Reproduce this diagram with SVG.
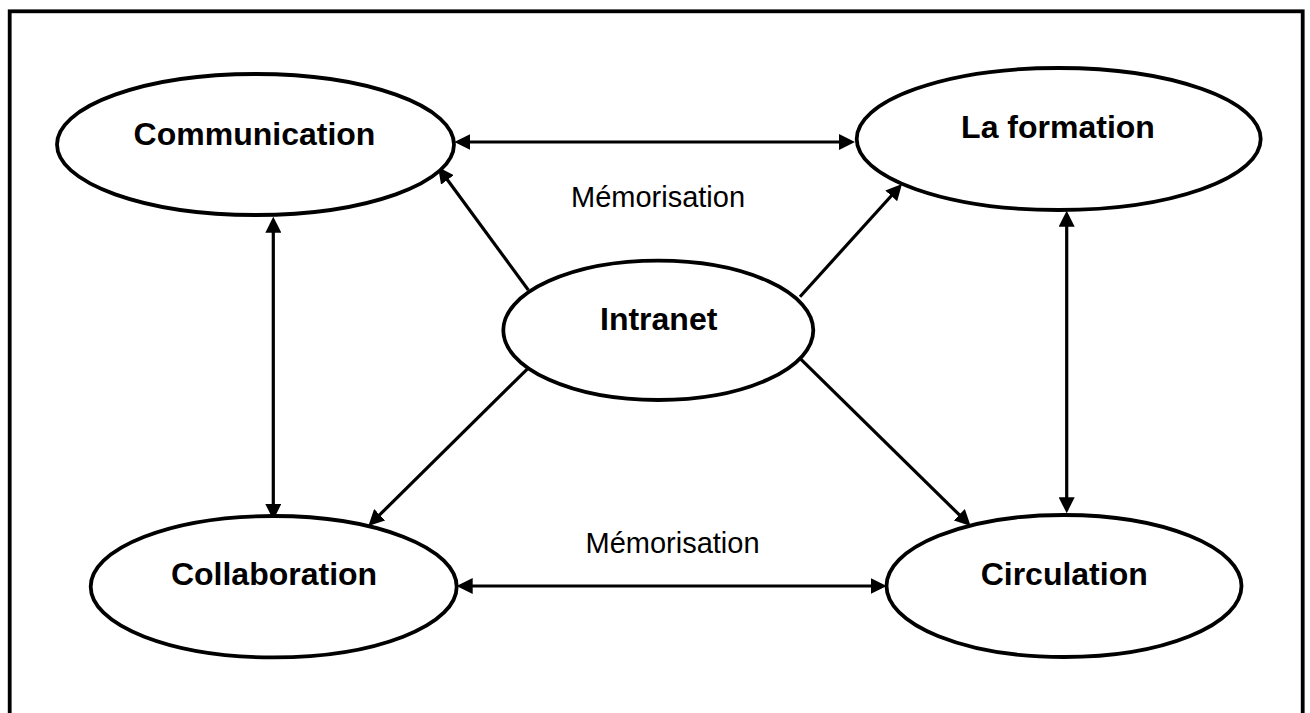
<svg xmlns="http://www.w3.org/2000/svg" width="1310" height="713" viewBox="0 0 1310 713">
  <style>
    .node { fill: #ffffff; stroke: #000000; stroke-width: 3.8; }
    .lbl { font-family: "Liberation Sans", Arial, sans-serif; font-weight: bold; font-size: 32px; fill: #000000; text-anchor: middle; }
    .edge-lbl { font-family: "Liberation Sans", Arial, sans-serif; font-size: 29px; fill: #000000; text-anchor: middle; }
    .conn { stroke: #000000; stroke-width: 3.2; fill: none; }
    .frame { fill: none; stroke: #000000; stroke-width: 3.8; }
  </style>
  <defs>
    <marker id="arrow" markerUnits="userSpaceOnUse" markerWidth="16" markerHeight="16" viewBox="0 0 16 16" refX="12" refY="8" orient="auto-start-reverse">
      <path d="M0,0 L16,8 L0,16 z" fill="#000000"/>
    </marker>
  </defs>
  <rect width="1310" height="713" fill="#ffffff"/>
  <rect class="frame" x="9.7" y="11.3" width="1293" height="730"/>

  <g id="connectors">
    <line class="conn" x1="458.3" y1="142" x2="851" y2="142" marker-start="url(#arrow)" marker-end="url(#arrow)"/>
    <line class="conn" x1="460.7" y1="586" x2="882.7" y2="586" marker-start="url(#arrow)" marker-end="url(#arrow)"/>
    <line class="conn" x1="273.3" y1="220.7" x2="273.3" y2="516" marker-start="url(#arrow)" marker-end="url(#arrow)"/>
    <line class="conn" x1="1066.7" y1="214.7" x2="1066.7" y2="509.3" marker-start="url(#arrow)" marker-end="url(#arrow)"/>
    <line class="conn" x1="528.3" y1="290" x2="440.4" y2="170.2" marker-end="url(#arrow)"/>
    <line class="conn" x1="800" y1="296.7" x2="899.3" y2="187" marker-end="url(#arrow)"/>
    <line class="conn" x1="528" y1="368.3" x2="371.2" y2="523.2" marker-end="url(#arrow)"/>
    <line class="conn" x1="800" y1="358.3" x2="967.8" y2="523.2" marker-end="url(#arrow)"/>
    <text class="edge-lbl" x="658" y="207">Mémorisation</text>
    <text class="edge-lbl" x="672.5" y="553">Mémorisation</text>
  </g>

  <g id="node-communication">
    <ellipse class="node" cx="255.5" cy="144.5" rx="198.5" ry="70.5"/>
    <text class="lbl" x="254.5" y="145">Communication</text>
  </g>
  <g id="node-formation">
    <ellipse class="node" cx="1058.7" cy="139" rx="202" ry="71"/>
    <text class="lbl" x="1058" y="138">La formation</text>
  </g>
  <g id="node-intranet">
    <ellipse class="node" cx="658.3" cy="330.3" rx="155" ry="69.7"/>
    <text class="lbl" x="658.7" y="330">Intranet</text>
  </g>
  <g id="node-collaboration">
    <ellipse class="node" cx="273.7" cy="586.7" rx="183" ry="70.7"/>
    <text class="lbl" x="274" y="585">Collaboration</text>
  </g>
  <g id="node-circulation">
    <ellipse class="node" cx="1064" cy="586" rx="177.5" ry="71"/>
    <text class="lbl" x="1064.2" y="585">Circulation</text>
  </g>
</svg>
